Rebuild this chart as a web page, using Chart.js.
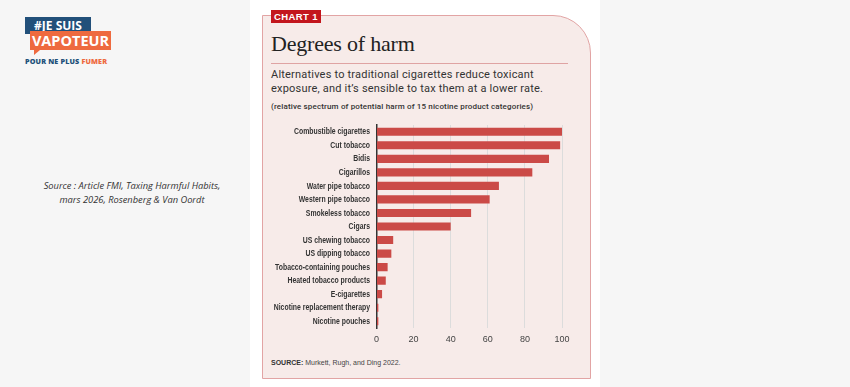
<!DOCTYPE html>
<html>
<head>
<meta charset="utf-8">
<script src="https://cdn.jsdelivr.net/npm/chart.js@4.4.1/dist/chart.umd.min.js"></script>
<style>
  body { margin: 0; width: 850px; height: 387px; background: #f6f6f6; position: relative; overflow: hidden; font-family: "Open Sans", sans-serif; }
  .col { position: absolute; left: 250px; top: 0; width: 350px; height: 387px; background: #fff; }
  .card { position: absolute; left: 262px; top: 15px; width: 329px; height: 364px; box-sizing: border-box; border: 1.5px solid #e2a4a4; border-radius: 0 38px 0 0; background: #f7ebe9; }
  .tag { position: absolute; left: 271px; top: 10px; width: 50px; height: 13px; background: #c3161d; color: #fff; font: bold 9.5px "Liberation Sans", sans-serif; letter-spacing: 0.4px; text-align: center; line-height: 13px; }
  .title { position: absolute; left: 271px; top: 33px; font: 22px/22px "Liberation Serif", serif; color: #222; letter-spacing: -0.2px; white-space: nowrap; }
  .rule { position: absolute; left: 271px; top: 62.5px; width: 297px; height: 1.5px; background: #dfa3a3; }
  .sub { position: absolute; left: 271px; top: 68px; font: 11px/14px Roboto, sans-serif; color: #333; letter-spacing: 0.2px; white-space: nowrap; }
  .paren { position: absolute; left: 271px; top: 102px; font: 500 8px/10px Roboto, sans-serif; color: #333; letter-spacing: 0.15px; white-space: nowrap; }
  .src { position: absolute; left: 271px; top: 357px; font: 7px/11px "Liberation Sans", sans-serif; color: #444; white-space: nowrap; }
  .src b { color: #333; }
  .chartbox { position: absolute; left: 262px; top: 115px; width: 328px; height: 235px; }
  .note { position: absolute; left: 30px; top: 179px; width: 204px; text-align: center; font: italic 9.3px/14px "Open Sans", sans-serif; color: #333; }
  .logo1 { position: absolute; left: 25px; top: 17px; width: 66px; height: 17px; background: #22507a; color: #fff; font: bold 12px/17px "Open Sans", sans-serif; text-align: center; }
  .logo2 { position: absolute; left: 30px; top: 31px; width: 81px; height: 19px; background: #ee6a3f; color: #fff; font: bold 14.5px/19px "Open Sans", sans-serif; text-align: center; }
  .tail { position: absolute; left: 34px; top: 50px; width: 0; height: 0; border-left: 6px solid #ee6a3f; border-bottom: 5px solid transparent; }
  .logo3 { position: absolute; left: 25px; top: 57px; font: 800 7.2px/8px "Open Sans", sans-serif; color: #22507a; letter-spacing: 0.15px; white-space: nowrap; }
  .logo3 span { color: #ee6a3f; }
</style>
</head>
<body>
<div class="col"></div>
<div class="card"></div>
<div class="tag">CHART 1</div>
<div class="title">Degrees of harm</div>
<div class="rule"></div>
<div class="sub">Alternatives to traditional cigarettes reduce toxicant<br>exposure, and it’s sensible to tax them at a lower rate.</div>
<div class="paren">(relative spectrum of potential harm of 15 nicotine product categories)</div>
<div class="chartbox"><canvas id="barChart"></canvas></div>
<div class="src"><b>SOURCE:</b> Murkett, Rugh, and Ding 2022.</div>

<div class="logo1">#JE SUIS</div>
<div class="logo2">VAPOTEUR</div>
<div class="tail"></div>
<div class="logo3">POUR NE PLUS <span>FUMER</span></div>
<div class="note">Source : Article FMI, Taxing Harmful Habits,<br>mars 2026, Rosenberg &amp; Van Oordt</div>

<script>
// Categories and harm scores
const categories = [
    "Combustible cigarettes", "Cut tobacco", "Bidis", "Cigarillos",
    "Water pipe tobacco", "Western pipe tobacco", "Smokeless tobacco", "Cigars",
    "US chewing tobacco", "US dipping tobacco", "Tobacco-containing pouches",
    "Heated tobacco products", "E-cigarettes", "Nicotine replacement therapy", "Nicotine pouches"
];
const harm = [100, 99, 93, 84, 66, 61, 51, 40, 9, 8, 6, 5, 3, 1, 1];
const xTicks = [0, 20, 40, 60, 80, 100];

// Condensed category labels: the original uses a very narrow typeface,
// so draw the y-axis labels squeezed horizontally
const narrowLabels = {
    id: "narrowLabels",
    afterDraw(chart) {
        const c = chart.ctx;
        const y = chart.scales.y;
        c.save();
        c.font = "bold 9.5px 'Liberation Sans', sans-serif";
        c.fillStyle = "#333";
        c.textAlign = "right";
        c.textBaseline = "middle";
        const squeeze = 76 / c.measureText(categories[0]).width;
        y.ticks.forEach((t, i) => {
            c.save();
            c.translate(y.right - 6.5, y.getPixelForTick(i));
            c.scale(squeeze, 1);
            c.fillText(y.getLabelForValue(t.value), 0, 0);
            c.restore();
        });
        c.restore();
    },
};

const config = {
    type: "bar",
    data: {
        labels: categories,
        datasets: [{
            data: harm,
            backgroundColor: "#cb4a47",
            borderWidth: 0,
            barPercentage: 0.6,
            categoryPercentage: 1,
        }],
    },
    options: {
        indexAxis: "y",
        responsive: true,
        maintainAspectRatio: false,
        animation: false,
        layout: { padding: { top: 10, right: 28, left: 0, bottom: 0 } },
        plugins: { legend: { display: false }, tooltip: { enabled: false } },
        scales: {
            x: {
                min: 0,
                max: 100,
                afterBuildTicks: (s) => { s.ticks = xTicks.map(v => ({ value: v })); },
                afterFit: (s) => { s.height = 22; },
                grid: { color: "#dcdcdc", lineWidth: 1, drawTicks: false },
                border: { display: false },
                ticks: { padding: 6, color: "#444", font: { family: "'Liberation Sans', sans-serif", size: 9 } },
            },
            y: {
                afterFit: (s) => { s.width = 114.5; },
                grid: { display: false, drawTicks: false },
                border: { display: true, color: "#333", width: 1.5 },
                ticks: { display: false },
            },
        },
    },
    plugins: [narrowLabels],
};

const ctx = document.getElementById("barChart").getContext("2d");
new Chart(ctx, config);
</script>
</body>
</html>
